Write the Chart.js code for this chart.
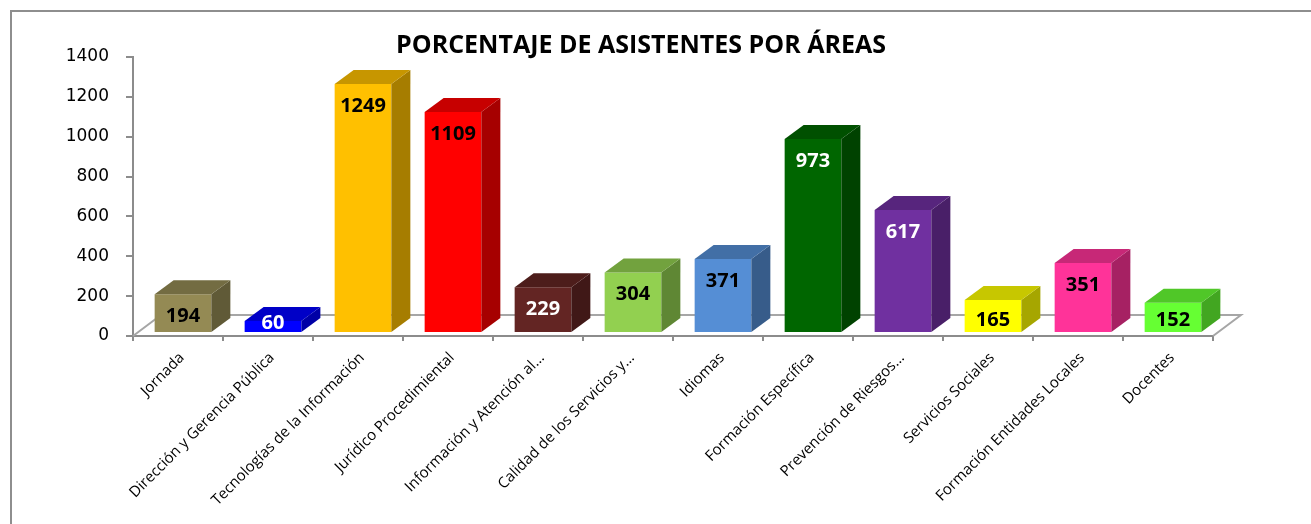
<!DOCTYPE html>
<html>
<head>
<meta charset="utf-8">
<script src="https://cdn.jsdelivr.net/npm/chart.js@4.4.1/dist/chart.umd.min.js"></script>
<style>
    html, body { margin: 0; padding: 0; background: #fff; overflow: hidden; }
    #frame {
        position: absolute; left: 10px; top: 10px;
        width: 1400px; height: 600px;
        border: 2px solid #8e8e8e;
    }
    #wrap { position: absolute; left: 0; top: 0; width: 1311px; height: 524px; }
</style>
</head>
<body>
<div id="frame"></div>
<div id="wrap"><canvas id="areas"></canvas></div>
<script>
// Datos del gráfico
const categorias = [
    "Jornada",
    "Dirección y Gerencia Pública",
    "Tecnologías de la Información",
    "Jurídico Procedimiental",
    "Información y Atención al...",
    "Calidad de los Servicios y...",
    "Idiomas",
    "Formación Específica",
    "Prevención de Riesgos...",
    "Servicios Sociales",
    "Formación Entidades Locales",
    "Docentes"
];
const asistentes = [194, 60, 1249, 1109, 229, 304, 371, 973, 617, 165, 351, 152];
const ticksY = [0, 200, 400, 600, 800, 1000, 1200, 1400];
const titulo = "PORCENTAJE DE ASISTENTES POR ÁREAS";

// Colores (cara frontal) y color de la etiqueta
const coloresBarra = ["#948a54", "#0000ff", "#ffc000", "#ff0000", "#632523", "#92d050",
    "#558ed5", "#006600", "#7030a0", "#ffff00", "#ff3399", "#66ff33"];
const coloresEtiqueta = ["#000", "#fff", "#000", "#000", "#fff", "#000",
    "#000", "#fff", "#fff", "#000", "#000", "#000"];

// Oscurecer un color hex
function shade(hex, f) {
    const n = parseInt(hex.slice(1), 16);
    const r = Math.round(((n >> 16) & 255) * f);
    const g = Math.round(((n >> 8) & 255) * f);
    const b = Math.round((n & 255) * f);
    return `rgb(${r},${g},${b})`;
}

const DEPTH_X = 19, DEPTH_Y = -14;   // profundidad de las barras
const FLOOR_X = 28, FLOOR_Y = -21;   // profundidad del suelo
const SHIFT_X = 5, SHIFT_Y = -3;     // desplazamiento de las barras sobre el suelo

const plugin3d = {
    id: "bars3d",
    beforeDatasetsDraw(chart) {
        const { ctx, chartArea } = chart;
        const y0 = chart.scales.y.getPixelForValue(0);
        // suelo (línea trasera y laterales)
        ctx.save();
        ctx.strokeStyle = "#a6a6a6";
        ctx.lineWidth = 2;
        ctx.beginPath();
        ctx.moveTo(chartArea.left, y0);
        ctx.lineTo(chartArea.left + FLOOR_X, y0 + FLOOR_Y);
        ctx.lineTo(chartArea.right + FLOOR_X, y0 + FLOOR_Y);
        ctx.lineTo(chartArea.right, y0);
        ctx.stroke();
        ctx.restore();

        ctx.save();
        ctx.translate(SHIFT_X, SHIFT_Y);
    },
    afterDatasetsDraw(chart) {
        const { ctx } = chart;
        const meta = chart.getDatasetMeta(0);
        meta.data.forEach((bar, i) => {
            const { x, y, base, width } = bar.getProps(["x", "y", "base", "width"], true);
            const l = x - width / 2, r = x + width / 2;
            // lateral
            ctx.fillStyle = shade(coloresBarra[i], 0.65);
            ctx.beginPath();
            ctx.moveTo(r, y);
            ctx.lineTo(r + DEPTH_X, y + DEPTH_Y);
            ctx.lineTo(r + DEPTH_X, base + DEPTH_Y);
            ctx.lineTo(r, base);
            ctx.closePath();
            ctx.fill();
            // tapa
            ctx.fillStyle = shade(coloresBarra[i], 0.78);
            ctx.beginPath();
            ctx.moveTo(l, y);
            ctx.lineTo(l + DEPTH_X, y + DEPTH_Y);
            ctx.lineTo(r + DEPTH_X, y + DEPTH_Y);
            ctx.lineTo(r, y);
            ctx.closePath();
            ctx.fill();
        });
        // etiquetas de valor
        ctx.font = "bold 20px 'Open Sans'";
        ctx.textAlign = "center";
        ctx.textBaseline = "middle";
        meta.data.forEach((bar, i) => {
            const { x, y, base } = bar.getProps(["x", "y", "base"], true);
            const h = base - y;
            const off = Math.max(2, Math.min(22, h - 12));
            ctx.fillStyle = coloresEtiqueta[i];
            ctx.fillText(String(asistentes[i]), x, y + off);
        });
        ctx.restore();
    },
    afterDraw(chart) {
        const { ctx } = chart;
        ctx.save();
        ctx.font = "bold 25px 'Open Sans'";
        ctx.fillStyle = "#000";
        ctx.textAlign = "center";
        ctx.textBaseline = "middle";
        ctx.fillText(titulo, 641, 46);
        ctx.restore();
    }
};

new Chart(document.getElementById("areas"), {
    type: "bar",
    data: {
        labels: categorias,
        datasets: [{
            data: asistentes,
            backgroundColor: coloresBarra,
            borderWidth: 0,
            barPercentage: 0.63,
            categoryPercentage: 1
        }]
    },
    options: {
        responsive: true,
        maintainAspectRatio: false,
        animation: false,
        events: [],
        layout: { padding: { left: 0, top: 57, right: 98, bottom: 0 } },
        plugins: { legend: { display: false }, tooltip: { enabled: false }, title: { display: false } },
        scales: {
            x: {
                afterFit: s => { s.height = 188; },
                grid: { offset: true, drawOnChartArea: false, tickLength: 5, color: "#8c8c8c", lineWidth: 2 },
                border: { color: "#8c8c8c", width: 2 },
                ticks: {
                    autoSkip: false, minRotation: 45, maxRotation: 45, labelOffset: 4, padding: 8,
                    color: "#000", font: { family: "'Open Sans'", size: 15 }
                }
            },
            y: {
                min: 0, max: 1400,
                afterFit: s => { s.width = 133; },
                afterBuildTicks: s => { s.ticks = ticksY.map(v => ({ value: v })); },
                grid: { drawOnChartArea: false, tickLength: 7, color: "#8c8c8c", lineWidth: 2 },
                border: { color: "#8c8c8c", width: 2 },
                ticks: {
                    padding: 17, color: "#000", font: { family: "'DejaVu Sans'", size: 17 },
                    callback: v => String(v)
                }
            }
        }
    },
    plugins: [plugin3d]
});
</script>
</body>
</html>
